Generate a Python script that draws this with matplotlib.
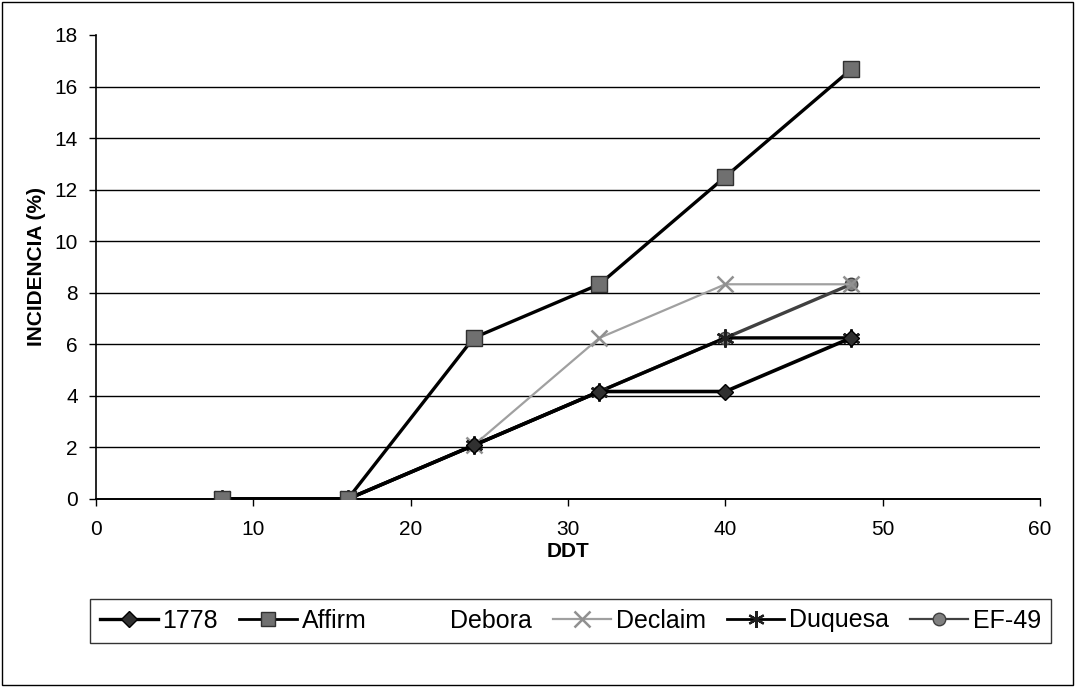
import matplotlib
matplotlib.use("Agg")
import matplotlib.pyplot as plt
from matplotlib.lines import Line2D
from matplotlib.patches import Rectangle

plt.rcParams['font.family'] = ['Liberation Sans', 'DejaVu Sans']

ddt = [8, 16, 24, 32, 40, 48]
s_1778 = [0, 0, 2.08, 4.17, 4.17, 6.25]
s_affirm = [0, 0, 6.25, 8.33, 12.5, 16.67]
s_declaim = [0, 0, 2.08, 6.25, 8.33, 8.33]
s_duquesa = [0, 0, 2.08, 4.17, 6.25, 6.25]
s_ef49 = [0, 0, 2.08, 4.17, 6.25, 8.33]
yticks = list(range(0, 19, 2))
xticks = list(range(0, 61, 10))

fig = plt.figure(figsize=(10.77, 6.87), dpi=100)
ax = fig.add_axes([96/1077, 1-499/687, (1040-96)/1077, (499-35)/687])

ax.plot(ddt, s_ef49, color='#404040', lw=2.4, marker='o', ms=9,
        mfc='#808080', mec='#404040', mew=1, label='EF-49', zorder=3)
ax.plot(ddt, s_duquesa, color='black', lw=2.4, marker=(6, 2, 0), ms=13,
        mec='#202020', mew=1.8, label='Duquesa', zorder=4)
ax.plot(ddt, s_declaim, color='#a0a0a0', lw=1.6, marker='x', ms=11,
        mec='#909090', mew=1.8, label='Declaim', zorder=3)
ax.plot(ddt, s_1778, color='black', lw=2.6, marker='D', ms=8,
        mfc='#303030', mec='black', label='1778', zorder=5)
ax.plot(ddt, s_affirm, color='black', lw=2.4, marker='s', ms=11,
        mfc='#707070', mec='#303030', mew=1, label='Affirm', zorder=6)

ax.set_xlim(0, 60)
ax.set_ylim(0, 18)
ax.set_xticks(xticks)
ax.set_yticks(yticks)
ax.tick_params(axis='both', labelsize=15, direction='out', length=5,
               width=1, color='black')
ax.tick_params(axis='y', pad=8)
ax.tick_params(axis='x', pad=10)
for y in yticks[1:-1]:
    ax.axhline(y, color='black', lw=1, zorder=1)
ax.spines['top'].set_visible(False)
ax.spines['right'].set_visible(False)
ax.spines['left'].set_linewidth(1.2)
ax.spines['bottom'].set_linewidth(1.4)

ax.set_xlabel('DDT', fontsize=15, fontweight='bold', labelpad=2)
ax.set_ylabel('INCIDENCIA (%)', fontsize=15, fontweight='bold', labelpad=6)

handles = [
    Line2D([], [], color='black', lw=2.4, marker='D', ms=8, mfc='#303030', mec='black'),
    Line2D([], [], color='black', lw=2.0, marker='s', ms=10, mfc='#707070', mec='#303030'),
    Line2D([], [], color='none', lw=0),
    Line2D([], [], color='#a0a0a0', lw=1.6, marker='x', ms=11, mec='#909090', mew=1.8),
    Line2D([], [], color='black', lw=2.0, marker=(6, 2, 0), ms=12, mec='#202020', mew=1.6),
    Line2D([], [], color='#404040', lw=1.6, marker='o', ms=9, mfc='#808080', mec='#404040'),
]
labels = ['1778', 'Affirm', 'Debora', 'Declaim', 'Duquesa', 'EF-49']
leg = fig.legend(handles, labels, loc='center', ncol=6,
                 bbox_to_anchor=(90/1077, 1-646/687, (1051-90)/1077, 51/687),
                 mode='expand', fontsize=18, frameon=True, fancybox=False,
                 edgecolor='black', handlelength=2.3, handletextpad=0.2,
                 columnspacing=0.6, borderaxespad=0)
leg.get_frame().set_linewidth(1.0)

fig.patches.append(Rectangle((2/1077, 2/687), 1071/1077, 683/687,
                             transform=fig.transFigure, fill=False,
                             edgecolor='black', lw=1))

fig.savefig('out.png', dpi=100)
